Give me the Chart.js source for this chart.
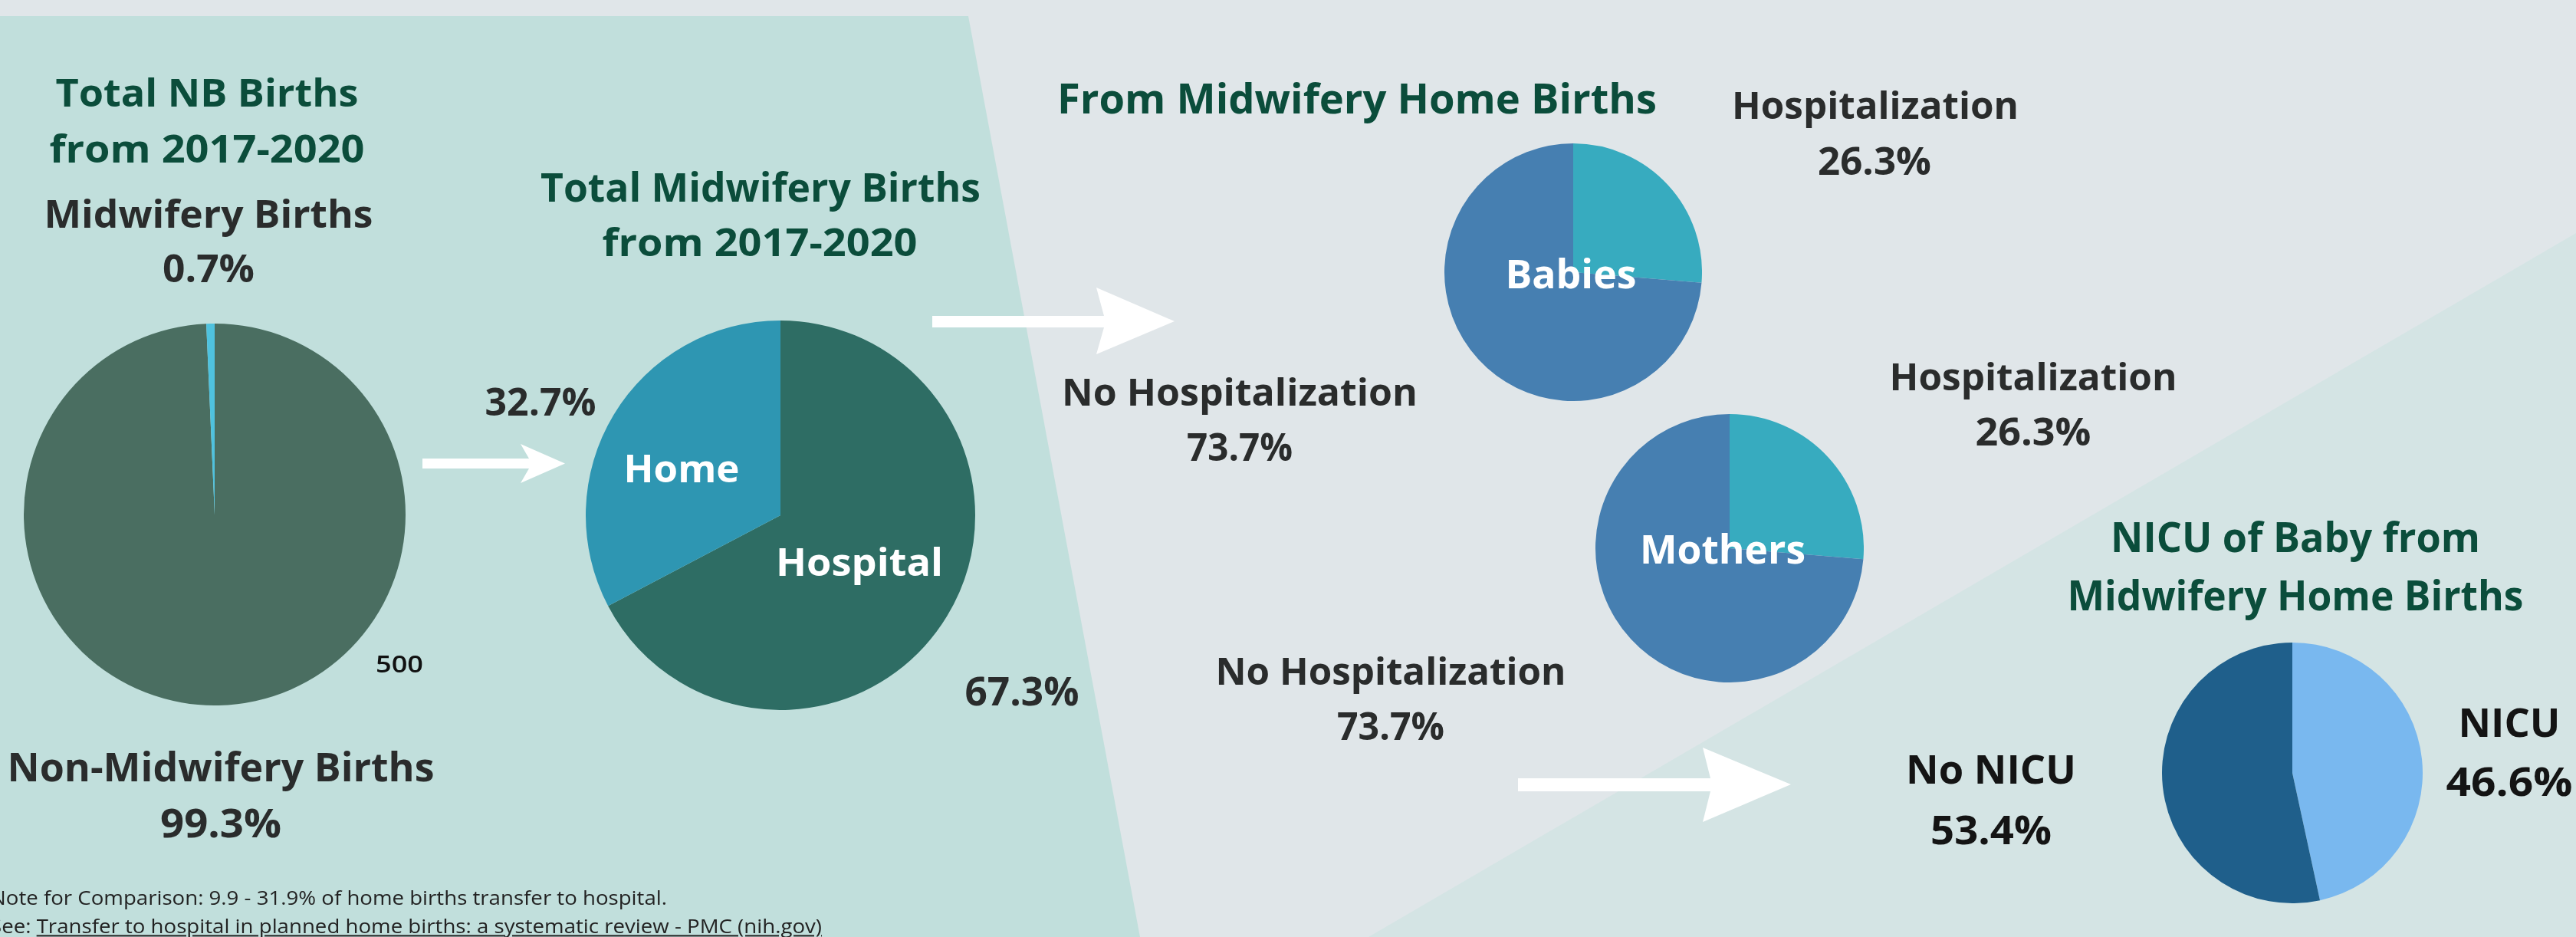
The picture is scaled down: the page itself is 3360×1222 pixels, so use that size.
<!DOCTYPE html>
<html><head><meta charset="utf-8">
<script src="https://cdn.jsdelivr.net/npm/chart.js@4.4.1/dist/chart.umd.min.js"></script>
<style>
html,body{margin:0;padding:0;width:3360px;height:1222px;overflow:hidden;background:#e0e6e9;}
#stage{position:relative;width:3360px;height:1222px;overflow:hidden;}
.layer{position:absolute;left:0;top:0;width:3360px;height:1222px;}
.pie{position:absolute;}
.t{position:absolute;white-space:nowrap;line-height:1;font-family:"Open Sans",sans-serif;}
</style></head><body><div id="stage">
<svg class="layer" width="3360" height="1222">
  <polygon points="0,21 1263,21 1487,1222 0,1222" fill="#c1dfdc"/>
  <polygon points="1785,1222 3360,304 3360,1222" fill="#d4e4e4"/>
</svg>
<svg class="layer" width="3360" height="1222" style="z-index:2">
  <polygon points="551,598 690,598 679,579 737,604.5 679,630 690,611 551,611" fill="#ffffff"/>
  <polygon points="1216,412 1440,412 1430,375 1532,419 1430,462 1440,427 1216,427" fill="#ffffff"/>
  <polygon points="1980,1015 2231,1015 2221,975 2336,1023 2221,1072 2231,1032 1980,1032" fill="#ffffff"/>
</svg>
</div>
<script>
// ---- data ----
const nbLabels = ['Non-Midwifery Births', 'Midwifery Births'];
const nbValues = [99.3, 0.7];
const mwLabels = ['Hospital', 'Home'];
const mwValues = [67.3, 32.7];
const babyLabels = ['Hospitalization', 'No Hospitalization'];
const babyValues = [26.3, 73.7];
const motherLabels = ['Hospitalization', 'No Hospitalization'];
const motherValues = [26.3, 73.7];
const nicuLabels = ['NICU', 'No NICU'];
const nicuValues = [46.6, 53.4];

const stage = document.getElementById('stage');
const pct = v => v.toFixed(1) + '%';

function makePie(cx, cy, r, labels, values, colors) {
  const c = document.createElement('canvas');
  c.width = 2 * r; c.height = 2 * r;
  c.className = 'pie';
  c.style.left = (cx - r) + 'px'; c.style.top = (cy - r) + 'px';
  c.style.width = 2 * r + 'px'; c.style.height = 2 * r + 'px';
  c.style.zIndex = 1;
  stage.appendChild(c);
  new Chart(c, {
    type: 'pie',
    data: { labels: labels, datasets: [{ data: values, backgroundColor: colors, borderWidth: 0, hoverOffset: 0 }] },
    options: {
      responsive: false, animation: false, events: [],
      layout: { padding: 0 },
      plugins: { legend: { display: false }, tooltip: { enabled: false } }
    }
  });
}

makePie(280, 671, 249, nbLabels, nbValues, ['#4a6e61', '#4fc2de']);
makePie(1018, 672, 254, mwLabels, mwValues, ['#2e6d64', '#2e96b2']);
makePie(2052, 355, 168, babyLabels, babyValues, ['#37abbf', '#467fb1']);
makePie(2256, 715, 175, motherLabels, motherValues, ['#37abbf', '#467fb1']);
makePie(2990, 1008, 170, nicuLabels, nicuValues, ['#79b8ef', '#1f5f8b']);

// ---- text ----
const GREEN = '#0b4d3b', DARK = '#2a2c2c', BLACK = '#141414', WHITE = '#ffffff';
const CAP = 0.714; // Open Sans cap-height ratio
const mctx = document.createElement('canvas').getContext('2d');
function label(text, x, y, w, cap, color, weight, align, html) {
  const size = cap / CAP;
  mctx.font = weight + ' ' + size + 'px "Open Sans"';
  const sx = w / mctx.measureText(text).width;
  const d = document.createElement('div');
  d.className = 't';
  d.style.fontSize = size + 'px';
  d.style.fontWeight = weight;
  d.style.color = color;
  d.style.left = x + 'px';
  d.style.top = (y + 0.027 * size) + 'px';
  d.style.zIndex = 3;
  if (align === 'left') {
    d.style.transformOrigin = '0 50%';
    d.style.transform = 'translate(0,-50%) scaleX(' + sx + ')';
  } else {
    d.style.transform = 'translate(-50%,-50%) scaleX(' + sx + ')';
  }
  if (html) d.innerHTML = html; else d.textContent = text;
  stage.appendChild(d);
}

label('Total NB Births', 270, 119, 395, 36, GREEN, 700);
label('from 2017-2020', 270, 192, 411, 36, GREEN, 700);
label(nbLabels[1], 272, 277, 429, 36, DARK, 700);
label(pct(nbValues[1]), 272, 348, 120, 36, DARK, 700);
label(nbLabels[0], 288, 999, 557, 36.5, DARK, 700);
label(pct(nbValues[0]), 288, 1072, 158, 37, DARK, 700);
label('500', 521, 864, 62, 22, '#111111', 600);

label('Total Midwifery Births', 992, 243, 574, 37, GREEN, 700);
label('from 2017-2020', 991, 314, 411, 36, GREEN, 700);
label(pct(mwValues[1]), 705, 522, 145, 36, DARK, 700);
label(mwLabels[1], 889, 609, 151, 36, WHITE, 700);
label(mwLabels[0], 1121, 731, 218, 36, WHITE, 700);
label(pct(mwValues[0]), 1333, 900, 149, 37, DARK, 700);

const note = 'Note for Comparison: 9.9 - 31.9% of home births transfer to hospital.';
label(note, -13, 1170, 883, 18, '#222222', 400, 'left');
const seeLink = 'Transfer to hospital in planned home births: a systematic review - PMC (nih.gov)';
label('See: ' + seeLink, -13, 1207, 1085, 18, '#222222', 400, 'left',
  'See: <span style="text-decoration:underline">' + seeLink + '</span>');

label('From Midwifery Home Births', 1770, 127, 782, 38, GREEN, 700);
label(babyLabels[0], 2446, 136, 374, 35, DARK, 700);
label(pct(babyValues[0]), 2445, 208, 148, 36, DARK, 700);
label('Babies', 2049, 356, 171, 37, WHITE, 700);
label(babyLabels[1], 1617, 510, 464, 35, DARK, 700);
label(pct(babyValues[1]), 1617, 581, 138, 36, DARK, 700);

label(motherLabels[0], 2652, 490, 375, 35, DARK, 700);
label(pct(motherValues[0]), 2652, 561, 151, 36, DARK, 700);
label('Mothers', 2247, 715, 216, 37, WHITE, 700);
label(motherLabels[1], 1814, 874, 457, 35, DARK, 700);
label(pct(motherValues[1]), 1814, 945, 140, 36, DARK, 700);

label('NICU of Baby from', 2994, 699, 482, 38, GREEN, 700);
label('Midwifery Home Births', 2994, 775, 595, 38, GREEN, 700);
label(nicuLabels[1], 2597, 1002, 222, 37, BLACK, 700);
label(pct(nicuValues[1]), 2597, 1081, 158, 37, BLACK, 700);
label(nicuLabels[0], 3273, 941, 133, 37, BLACK, 700);
label(pct(nicuValues[0]), 3273, 1018, 165, 37, BLACK, 700);
</script>
</body></html>
